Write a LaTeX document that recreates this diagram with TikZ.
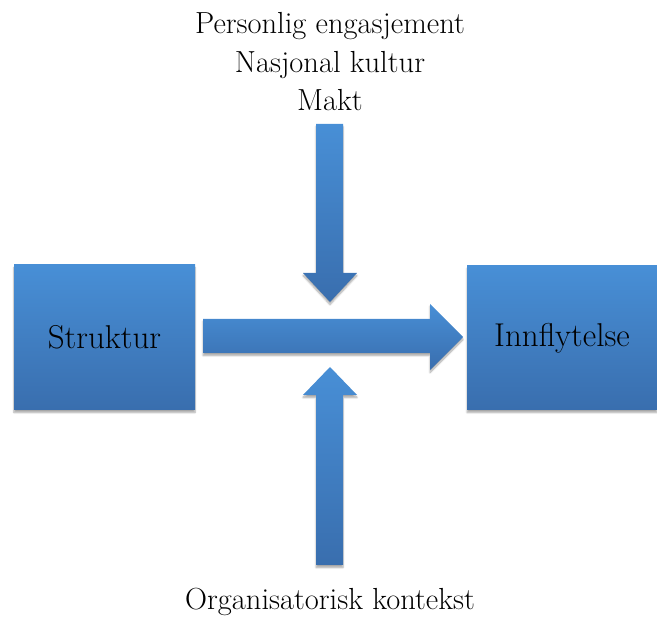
\documentclass[tikz,border=0pt]{standalone}
\usepackage{fontspec}
\usetikzlibrary{shadows.blur}
\definecolor{bluetop}{RGB}{72,143,214}
\definecolor{bluebot}{RGB}{57,110,174}
\tikzset{
  bluebox/.style={rectangle, top color=bluetop, bottom color=bluebot, draw=none,
    blur shadow={shadow blur steps=6, shadow xshift=0pt, shadow yshift=-2.5pt, shadow opacity=35},
    font=\fontsize{33}{40}\selectfont, inner sep=0pt},
  blockarrow/.style={top color=bluetop, bottom color=bluebot, draw=none,
    blur shadow={shadow blur steps=6, shadow xshift=0pt, shadow yshift=-2.5pt, shadow opacity=35}},
  lbl/.style={font=\fontsize{30.5}{38}\selectfont, anchor=base, inner sep=0pt}
}
\begin{document}
\begin{tikzpicture}[x=1pt,y=-1pt]
\useasboundingbox (0,0) rectangle (657,620);
% boxes
\node[bluebox, minimum width=181pt, minimum height=145pt] (struktur) at (104.5,337.5) {Struktur};
\node[bluebox, minimum width=190pt, minimum height=144pt] (innfl) at (562,338) {Innflytelse};
% horizontal arrow
\path[blockarrow] (203,319) -- (430,319) -- (430,304) -- (463,337) -- (430,370) -- (430,353) -- (203,353) -- cycle;
% top arrow (down)
\path[blockarrow] (316,124) -- (343,124) -- (343,273) -- (357,273) -- (330,302) -- (303,273) -- (316,273) -- cycle;
% bottom arrow (up)
\path[blockarrow] (330,367) -- (357,395) -- (343,395) -- (343,565) -- (316,565) -- (316,395) -- (303,395) -- cycle;
% texts
\node[lbl] (t1) at (330,34) {Personlig engasjement};
\node[lbl] (t2) at (330,73) {Nasjonal kultur};
\node[lbl] (t3) at (330,111) {Makt};
\node[lbl] (t4) at (330,610) {Organisatorisk kontekst};
\end{tikzpicture}
\end{document}
